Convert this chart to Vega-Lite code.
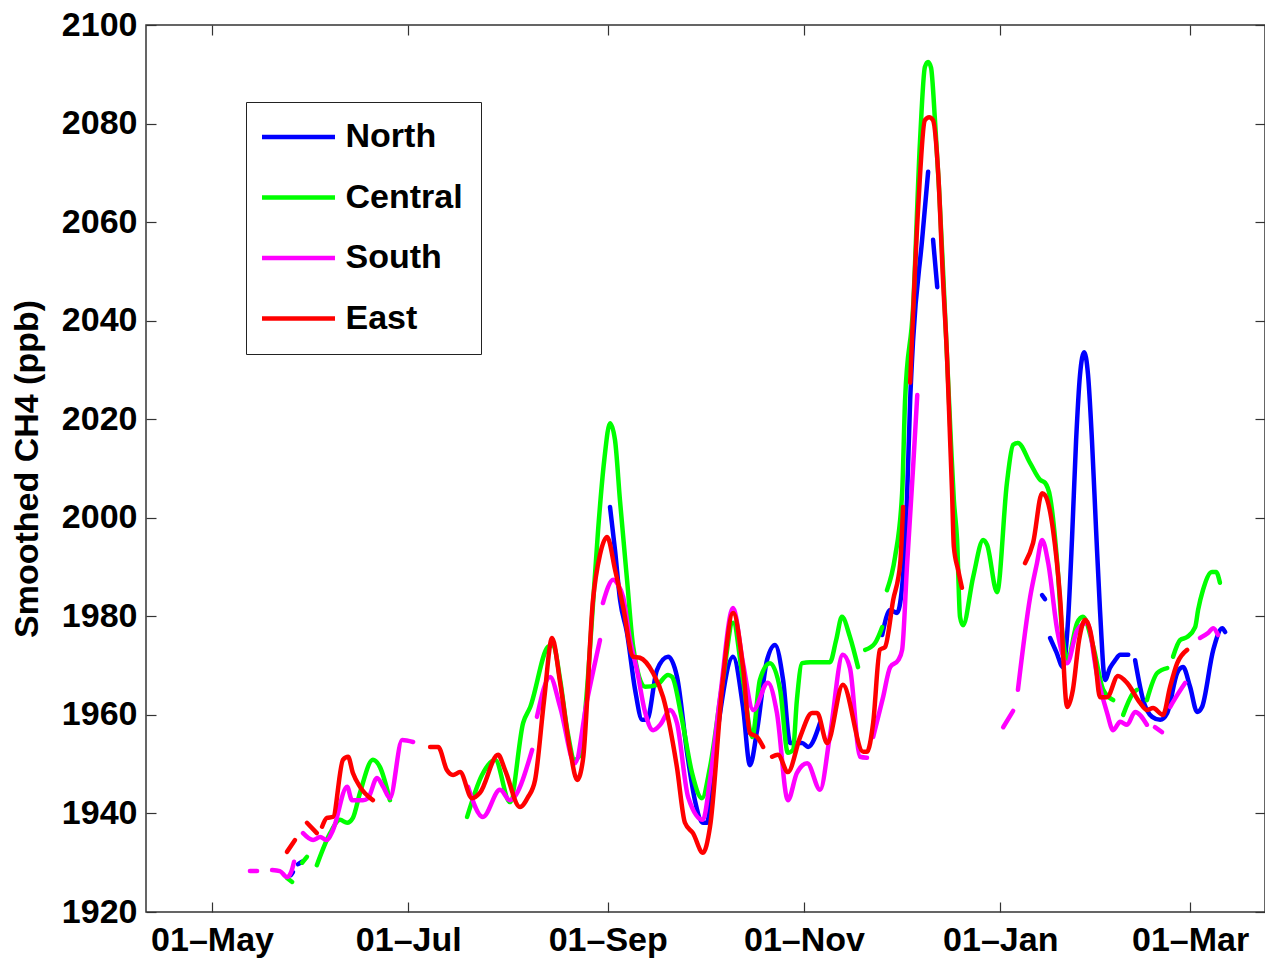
{
  "$schema": "https://vega.github.io/schema/vega-lite/v6.json",
  "width": 1119,
  "height": 887,
  "autosize": {"type": "none"},
  "padding": {"left": 146, "top": 25, "right": 0, "bottom": 46},
  "background": "white",
  "data": {"values": [
    {"s":"North","g":"N1","d":"2010-05-25T13:00","v":1927.5},
    {"s":"North","g":"N1","d":"2010-05-26T04:00","v":1928.1},
    {"s":"North","g":"N2","d":"2010-05-27T18:00","v":1929.7},
    {"s":"North","g":"N2","d":"2010-05-29T00:00","v":1930.2},
    {"s":"North","g":"N3","d":"2010-09-01T17:00","v":2002.2},
    {"s":"North","g":"N3","d":"2010-09-03T06:00","v":1993.5},
    {"s":"North","g":"N3","d":"2010-09-04T20:00","v":1983.3},
    {"s":"North","g":"N3","d":"2010-09-07T00:00","v":1976.6},
    {"s":"North","g":"N3","d":"2010-09-09T12:00","v":1965.1},
    {"s":"North","g":"N3","d":"2010-09-11T17:00","v":1959.0},
    {"s":"North","g":"N3","d":"2010-09-13T05:00","v":1959.0},
    {"s":"North","g":"N3","d":"2010-09-16T07:00","v":1969.1},
    {"s":"North","g":"N3","d":"2010-09-19T18:00","v":1971.8},
    {"s":"North","g":"N3","d":"2010-09-22T13:00","v":1967.7},
    {"s":"North","g":"N3","d":"2010-09-25T16:00","v":1952.3},
    {"s":"North","g":"N3","d":"2010-09-28T02:00","v":1942.7},
    {"s":"North","g":"N3","d":"2010-09-30T14:00","v":1938.1},
    {"s":"North","g":"N3","d":"2010-10-01T21:00","v":1938.1},
    {"s":"North","g":"N3","d":"2010-10-03T17:00","v":1948.8},
    {"s":"North","g":"N3","d":"2010-10-05T22:00","v":1960.4},
    {"s":"North","g":"N3","d":"2010-10-09T23:00","v":1971.8},
    {"s":"North","g":"N3","d":"2010-10-13T01:00","v":1961.6},
    {"s":"North","g":"N3","d":"2010-10-15T05:00","v":1949.8},
    {"s":"North","g":"N3","d":"2010-10-17T10:00","v":1956.9},
    {"s":"North","g":"N3","d":"2010-10-20T12:00","v":1971.1},
    {"s":"North","g":"N3","d":"2010-10-23T00:00","v":1974.2},
    {"s":"North","g":"N3","d":"2010-10-25T12:00","v":1967.1},
    {"s":"North","g":"N3","d":"2010-10-27T17:00","v":1954.3},
    {"s":"North","g":"N3","d":"2010-10-31T10:00","v":1954.3},
    {"s":"North","g":"N3","d":"2010-11-02T07:00","v":1953.5},
    {"s":"North","g":"N3","d":"2010-11-06T00:00","v":1958.4},
    {"s":"North","g":"N4","d":"2010-11-25T07:00","v":1976.2},
    {"s":"North","g":"N4","d":"2010-11-27T19:00","v":1981.3},
    {"s":"North","g":"N4","d":"2010-11-29T22:00","v":1980.7},
    {"s":"North","g":"N4","d":"2010-12-01T12:00","v":1986.0},
    {"s":"North","g":"N4","d":"2010-12-03T00:00","v":2003.6},
    {"s":"North","g":"N4","d":"2010-12-04T00:00","v":2023.9},
    {"s":"North","g":"N4","d":"2010-12-04T22:00","v":2036.1},
    {"s":"North","g":"N4","d":"2010-12-07T17:00","v":2056.4},
    {"s":"North","g":"N4","d":"2010-12-09T14:00","v":2070.2},
    {"s":"North","g":"N5","d":"2010-12-11T03:00","v":2056.4},
    {"s":"North","g":"N5","d":"2010-12-12T10:00","v":2046.8},
    {"s":"North","g":"N6","d":"2011-01-14T00:00","v":1984.3},
    {"s":"North","g":"N6","d":"2011-01-14T22:00","v":1983.5},
    {"s":"North","g":"N7","d":"2011-01-16T12:00","v":1975.6},
    {"s":"North","g":"N7","d":"2011-01-18T10:00","v":1972.8},
    {"s":"North","g":"N7","d":"2011-01-20T12:00","v":1969.7},
    {"s":"North","g":"N7","d":"2011-01-22T02:00","v":1979.3},
    {"s":"North","g":"N7","d":"2011-01-23T07:00","v":1995.5},
    {"s":"North","g":"N7","d":"2011-01-24T14:00","v":2015.8},
    {"s":"North","g":"N7","d":"2011-01-25T19:00","v":2029.0},
    {"s":"North","g":"N7","d":"2011-01-27T02:00","v":2033.6},
    {"s":"North","g":"N7","d":"2011-01-28T07:00","v":2029.0},
    {"s":"North","g":"N7","d":"2011-01-29T12:00","v":2015.8},
    {"s":"North","g":"N7","d":"2011-01-30T19:00","v":1997.5},
    {"s":"North","g":"N7","d":"2011-02-01T00:00","v":1981.3},
    {"s":"North","g":"N7","d":"2011-02-02T14:00","v":1967.1},
    {"s":"North","g":"N7","d":"2011-02-04T02:00","v":1969.5},
    {"s":"North","g":"N7","d":"2011-02-05T17:00","v":1971.1},
    {"s":"North","g":"N7","d":"2011-02-07T07:00","v":1972.2},
    {"s":"North","g":"N7","d":"2011-02-09T19:00","v":1972.2},
    {"s":"North","g":"N8","d":"2011-02-11T22:00","v":1971.1},
    {"s":"North","g":"N8","d":"2011-02-14T10:00","v":1963.0},
    {"s":"North","g":"N8","d":"2011-02-17T05:00","v":1959.6},
    {"s":"North","g":"N8","d":"2011-02-19T17:00","v":1959.0},
    {"s":"North","g":"N8","d":"2011-02-21T22:00","v":1960.4},
    {"s":"North","g":"N8","d":"2011-02-25T00:00","v":1968.5},
    {"s":"North","g":"N8","d":"2011-02-26T19:00","v":1969.7},
    {"s":"North","g":"N8","d":"2011-03-01T00:00","v":1965.7},
    {"s":"North","g":"N8","d":"2011-03-03T05:00","v":1960.6},
    {"s":"North","g":"N8","d":"2011-03-04T17:00","v":1961.6},
    {"s":"North","g":"N8","d":"2011-03-08T05:00","v":1973.2},
    {"s":"North","g":"N8","d":"2011-03-11T00:00","v":1977.6},
    {"s":"North","g":"N8","d":"2011-03-11T22:00","v":1976.8},

    {"s":"Central","g":"C1","d":"2010-05-24T07:00","v":1926.9},
    {"s":"Central","g":"C1","d":"2010-05-25T22:00","v":1926.1},
    {"s":"Central","g":"C2","d":"2010-05-29T00:00","v":1930.0},
    {"s":"Central","g":"C2","d":"2010-05-30T12:00","v":1931.2},
    {"s":"Central","g":"C3","d":"2010-06-02T14:00","v":1929.5},
    {"s":"Central","g":"C3","d":"2010-06-06T17:00","v":1936.0},
    {"s":"Central","g":"C3","d":"2010-06-09T19:00","v":1938.7},
    {"s":"Central","g":"C3","d":"2010-06-12T00:00","v":1938.1},
    {"s":"Central","g":"C3","d":"2010-06-13T19:00","v":1939.1},
    {"s":"Central","g":"C3","d":"2010-06-16T00:00","v":1944.2},
    {"s":"Central","g":"C3","d":"2010-06-20T00:00","v":1950.9},
    {"s":"Central","g":"C3","d":"2010-06-22T05:00","v":1949.4},
    {"s":"Central","g":"C3","d":"2010-06-25T07:00","v":1942.7},
    {"s":"Central","g":"C4","d":"2010-07-19T07:00","v":1939.3},
    {"s":"Central","g":"C4","d":"2010-07-23T22:00","v":1947.8},
    {"s":"Central","g":"C4","d":"2010-07-28T00:00","v":1950.9},
    {"s":"Central","g":"C4","d":"2010-08-01T14:00","v":1942.3},
    {"s":"Central","g":"C4","d":"2010-08-05T17:00","v":1958.4},
    {"s":"Central","g":"C4","d":"2010-08-07T22:00","v":1961.6},
    {"s":"Central","g":"C4","d":"2010-08-13T10:00","v":1973.8},
    {"s":"Central","g":"C4","d":"2010-08-15T00:00","v":1974.2},
    {"s":"Central","g":"C4","d":"2010-08-17T05:00","v":1967.1},
    {"s":"Central","g":"C4","d":"2010-08-19T10:00","v":1956.9},
    {"s":"Central","g":"C4","d":"2010-08-21T19:00","v":1950.9},
    {"s":"Central","g":"C4","d":"2010-08-23T10:00","v":1951.9},
    {"s":"Central","g":"C4","d":"2010-08-25T07:00","v":1963.0},
    {"s":"Central","g":"C4","d":"2010-08-27T02:00","v":1979.3},
    {"s":"Central","g":"C4","d":"2010-08-29T00:00","v":1997.5},
    {"s":"Central","g":"C4","d":"2010-08-30T22:00","v":2011.7},
    {"s":"Central","g":"C4","d":"2010-09-01T17:00","v":2019.2},
    {"s":"Central","g":"C4","d":"2010-09-03T06:00","v":2015.8},
    {"s":"Central","g":"C4","d":"2010-09-04T19:00","v":2003.6},
    {"s":"Central","g":"C4","d":"2010-09-07T00:00","v":1987.4},
    {"s":"Central","g":"C4","d":"2010-09-08T22:00","v":1973.8},
    {"s":"Central","g":"C4","d":"2010-09-12T14:00","v":1965.7},
    {"s":"Central","g":"C4","d":"2010-09-16T07:00","v":1966.1},
    {"s":"Central","g":"C4","d":"2010-09-19T18:00","v":1968.1},
    {"s":"Central","g":"C4","d":"2010-09-21T00:00","v":1967.7},
    {"s":"Central","g":"C4","d":"2010-09-24T02:00","v":1959.0},
    {"s":"Central","g":"C4","d":"2010-09-27T05:00","v":1948.2},
    {"s":"Central","g":"C4","d":"2010-09-30T07:00","v":1943.1},
    {"s":"Central","g":"C4","d":"2010-10-02T19:00","v":1949.4},
    {"s":"Central","g":"C4","d":"2010-10-06T19:00","v":1967.1},
    {"s":"Central","g":"C4","d":"2010-10-09T23:00","v":1978.7},
    {"s":"Central","g":"C4","d":"2010-10-13T01:00","v":1967.1},
    {"s":"Central","g":"C4","d":"2010-10-15T22:00","v":1955.5},
    {"s":"Central","g":"C4","d":"2010-10-18T07:00","v":1967.1},
    {"s":"Central","g":"C4","d":"2010-10-21T10:00","v":1970.5},
    {"s":"Central","g":"C4","d":"2010-10-24T14:00","v":1965.1},
    {"s":"Central","g":"C4","d":"2010-10-27T00:00","v":1952.3},
    {"s":"Central","g":"C4","d":"2010-10-28T14:00","v":1952.9},
    {"s":"Central","g":"C4","d":"2010-10-29T19:00","v":1963.0},
    {"s":"Central","g":"C4","d":"2010-10-31T10:00","v":1970.5},
    {"s":"Central","g":"C4","d":"2010-11-02T22:00","v":1970.7},
    {"s":"Central","g":"C4","d":"2010-11-06T00:00","v":1970.7},
    {"s":"Central","g":"C4","d":"2010-11-09T02:00","v":1970.7},
    {"s":"Central","g":"C4","d":"2010-11-11T00:00","v":1975.2},
    {"s":"Central","g":"C4","d":"2010-11-12T19:00","v":1979.9},
    {"s":"Central","g":"C4","d":"2010-11-15T07:00","v":1975.8},
    {"s":"Central","g":"C4","d":"2010-11-17T19:00","v":1969.7},
    {"s":"Central","g":"C5","d":"2010-11-20T00:00","v":1973.2},
    {"s":"Central","g":"C5","d":"2010-11-23T02:00","v":1974.6},
    {"s":"Central","g":"C5","d":"2010-11-25T07:00","v":1977.8},
    {"s":"Central","g":"C6","d":"2010-11-26T19:00","v":1985.3},
    {"s":"Central","g":"C6","d":"2010-11-29T07:00","v":1992.0},
    {"s":"Central","g":"C6","d":"2010-12-01T12:00","v":2005.0},
    {"s":"Central","g":"C6","d":"2010-12-02T10:00","v":2023.9},
    {"s":"Central","g":"C6","d":"2010-12-04T22:00","v":2042.8},
    {"s":"Central","g":"C6","d":"2010-12-07T02:00","v":2076.7},
    {"s":"Central","g":"C6","d":"2010-12-08T14:00","v":2091.5},
    {"s":"Central","g":"C6","d":"2010-12-09T14:00","v":2092.5},
    {"s":"Central","g":"C6","d":"2010-12-10T12:00","v":2091.3},
    {"s":"Central","g":"C6","d":"2010-12-11T17:00","v":2080.7},
    {"s":"Central","g":"C6","d":"2010-12-13T00:00","v":2066.5},
    {"s":"Central","g":"C6","d":"2010-12-14T05:00","v":2050.3},
    {"s":"Central","g":"C6","d":"2010-12-15T12:00","v":2032.0},
    {"s":"Central","g":"C6","d":"2010-12-16T17:00","v":2014.8},
    {"s":"Central","g":"C6","d":"2010-12-17T14:00","v":2003.6},
    {"s":"Central","g":"C6","d":"2010-12-18T14:00","v":1995.5},
    {"s":"Central","g":"C6","d":"2010-12-19T12:00","v":1979.9},
    {"s":"Central","g":"C6","d":"2010-12-20T10:00","v":1978.2},
    {"s":"Central","g":"C6","d":"2010-12-23T14:00","v":1988.0},
    {"s":"Central","g":"C6","d":"2010-12-26T17:00","v":1995.5},
    {"s":"Central","g":"C6","d":"2010-12-27T22:00","v":1994.5},
    {"s":"Central","g":"C6","d":"2010-12-31T00:00","v":1984.9},
    {"s":"Central","g":"C6","d":"2011-01-03T02:00","v":2007.1},
    {"s":"Central","g":"C6","d":"2011-01-05T00:00","v":2014.8},
    {"s":"Central","g":"C6","d":"2011-01-06T12:00","v":2015.2},
    {"s":"Central","g":"C6","d":"2011-01-10T07:00","v":2011.1},
    {"s":"Central","g":"C6","d":"2011-01-13T10:00","v":2007.7},
    {"s":"Central","g":"C6","d":"2011-01-14T22:00","v":2007.1},
    {"s":"Central","g":"C6","d":"2011-01-16T12:00","v":2004.2},
    {"s":"Central","g":"C6","d":"2011-01-18T17:00","v":1990.8},
    {"s":"Central","g":"C6","d":"2011-01-20T05:00","v":1977.2},
    {"s":"Central","g":"C6","d":"2011-01-21T19:00","v":1971.1},
    {"s":"Central","g":"C6","d":"2011-01-24T22:00","v":1978.7},
    {"s":"Central","g":"C6","d":"2011-01-26T17:00","v":1979.9},
    {"s":"Central","g":"C6","d":"2011-01-29T22:00","v":1973.8},
    {"s":"Central","g":"C6","d":"2011-02-02T00:00","v":1965.1},
    {"s":"Central","g":"C6","d":"2011-02-05T02:00","v":1963.0},
    {"s":"Central","g":"C7","d":"2011-02-08T05:00","v":1960.0},
    {"s":"Central","g":"C7","d":"2011-02-11T07:00","v":1964.4},
    {"s":"Central","g":"C7","d":"2011-02-12T12:00","v":1965.1},
    {"s":"Central","g":"C8","d":"2011-02-15T14:00","v":1963.0},
    {"s":"Central","g":"C8","d":"2011-02-18T19:00","v":1968.5},
    {"s":"Central","g":"C8","d":"2011-02-21T22:00","v":1969.5},
    {"s":"Central","g":"C9","d":"2011-02-23T17:00","v":1971.8},
    {"s":"Central","g":"C9","d":"2011-02-25T22:00","v":1975.2},
    {"s":"Central","g":"C9","d":"2011-02-28T02:00","v":1975.8},
    {"s":"Central","g":"C9","d":"2011-03-02T14:00","v":1977.8},
    {"s":"Central","g":"C9","d":"2011-03-03T12:00","v":1981.3},
    {"s":"Central","g":"C9","d":"2011-03-05T00:00","v":1985.3},
    {"s":"Central","g":"C9","d":"2011-03-07T19:00","v":1989.0},
    {"s":"Central","g":"C9","d":"2011-03-09T02:00","v":1989.0},
    {"s":"Central","g":"C9","d":"2011-03-10T07:00","v":1986.8},

    {"s":"South","g":"S1","d":"2010-05-12T19:00","v":1928.3},
    {"s":"South","g":"S1","d":"2010-05-15T00:00","v":1928.3},
    {"s":"South","g":"S2","d":"2010-05-19T16:00","v":1928.5},
    {"s":"South","g":"S2","d":"2010-05-22T02:00","v":1928.3},
    {"s":"South","g":"S2","d":"2010-05-24T07:00","v":1927.1},
    {"s":"South","g":"S2","d":"2010-05-25T14:00","v":1928.1},
    {"s":"South","g":"S2","d":"2010-05-26T12:00","v":1930.2},
    {"s":"South","g":"S3","d":"2010-05-29T07:00","v":1936.0},
    {"s":"South","g":"S3","d":"2010-06-01T10:00","v":1934.6},
    {"s":"South","g":"S3","d":"2010-06-03T14:00","v":1935.2},
    {"s":"South","g":"S3","d":"2010-06-05T17:00","v":1934.6},
    {"s":"South","g":"S3","d":"2010-06-07T14:00","v":1936.6},
    {"s":"South","g":"S3","d":"2010-06-12T00:00","v":1945.4},
    {"s":"South","g":"S3","d":"2010-06-13T12:00","v":1942.7},
    {"s":"South","g":"S3","d":"2010-06-16T22:00","v":1942.7},
    {"s":"South","g":"S3","d":"2010-06-18T12:00","v":1943.1},
    {"s":"South","g":"S3","d":"2010-06-21T07:00","v":1947.2},
    {"s":"South","g":"S3","d":"2010-06-23T05:00","v":1945.4},
    {"s":"South","g":"S3","d":"2010-06-25T07:00","v":1943.1},
    {"s":"South","g":"S3","d":"2010-06-29T02:00","v":1954.9},
    {"s":"South","g":"S3","d":"2010-07-02T12:00","v":1954.5},
    {"s":"South","g":"S4","d":"2010-07-19T14:00","v":1945.4},
    {"s":"South","g":"S4","d":"2010-07-24T05:00","v":1939.3},
    {"s":"South","g":"S4","d":"2010-07-29T12:00","v":1944.8},
    {"s":"South","g":"S4","d":"2010-08-01T14:00","v":1942.7},
    {"s":"South","g":"S4","d":"2010-08-08T12:00","v":1952.9},
    {"s":"South","g":"S5","d":"2010-08-10T00:00","v":1959.6},
    {"s":"South","g":"S5","d":"2010-08-14T02:00","v":1967.7},
    {"s":"South","g":"S5","d":"2010-08-17T05:00","v":1961.6},
    {"s":"South","g":"S5","d":"2010-08-21T19:00","v":1950.2},
    {"s":"South","g":"S5","d":"2010-08-25T14:00","v":1963.0},
    {"s":"South","g":"S5","d":"2010-08-29T14:00","v":1975.2},
    {"s":"South","g":"S6","d":"2010-08-30T12:00","v":1982.7},
    {"s":"South","g":"S6","d":"2010-09-02T17:00","v":1987.4},
    {"s":"South","g":"S6","d":"2010-09-04T05:00","v":1986.4},
    {"s":"South","g":"S6","d":"2010-09-05T19:00","v":1983.9},
    {"s":"South","g":"S6","d":"2010-09-07T22:00","v":1975.2},
    {"s":"South","g":"S6","d":"2010-09-10T02:00","v":1969.1},
    {"s":"South","g":"S6","d":"2010-09-12T14:00","v":1960.6},
    {"s":"South","g":"S6","d":"2010-09-15T02:00","v":1956.9},
    {"s":"South","g":"S6","d":"2010-09-17T07:00","v":1958.0},
    {"s":"South","g":"S6","d":"2010-09-20T10:00","v":1961.0},
    {"s":"South","g":"S6","d":"2010-09-22T12:00","v":1958.4},
    {"s":"South","g":"S6","d":"2010-09-26T00:00","v":1943.3},
    {"s":"South","g":"S6","d":"2010-09-30T14:00","v":1938.7},
    {"s":"South","g":"S6","d":"2010-10-02T19:00","v":1946.8},
    {"s":"South","g":"S6","d":"2010-10-05T22:00","v":1963.6},
    {"s":"South","g":"S6","d":"2010-10-09T23:00","v":1981.7},
    {"s":"South","g":"S6","d":"2010-10-13T01:00","v":1970.5},
    {"s":"South","g":"S6","d":"2010-10-16T05:00","v":1961.0},
    {"s":"South","g":"S6","d":"2010-10-20T19:00","v":1966.5},
    {"s":"South","g":"S6","d":"2010-10-23T14:00","v":1960.4},
    {"s":"South","g":"S6","d":"2010-10-27T00:00","v":1942.7},
    {"s":"South","g":"S6","d":"2010-10-29T19:00","v":1948.2},
    {"s":"South","g":"S6","d":"2010-11-02T00:00","v":1950.2},
    {"s":"South","g":"S6","d":"2010-11-06T00:00","v":1944.8},
    {"s":"South","g":"S6","d":"2010-11-09T02:00","v":1955.9},
    {"s":"South","g":"S6","d":"2010-11-13T02:00","v":1972.2},
    {"s":"South","g":"S6","d":"2010-11-15T07:00","v":1969.5},
    {"s":"South","g":"S6","d":"2010-11-18T10:00","v":1951.5},
    {"s":"South","g":"S6","d":"2010-11-20T14:00","v":1951.3},
    {"s":"South","g":"S7","d":"2010-11-22T12:00","v":1955.5},
    {"s":"South","g":"S7","d":"2010-11-25T14:00","v":1963.6},
    {"s":"South","g":"S7","d":"2010-11-27T19:00","v":1969.7},
    {"s":"South","g":"S7","d":"2010-11-30T07:00","v":1971.1},
    {"s":"South","g":"S7","d":"2010-12-01T12:00","v":1973.2},
    {"s":"South","g":"S7","d":"2010-12-03T00:00","v":1990.0},
    {"s":"South","g":"S7","d":"2010-12-04T22:00","v":2010.3},
    {"s":"South","g":"S7","d":"2010-12-06T05:00","v":2024.9},
    {"s":"South","g":"S8","d":"2011-01-01T22:00","v":1957.5},
    {"s":"South","g":"S8","d":"2011-01-05T00:00","v":1960.8},
    {"s":"South","g":"S9","d":"2011-01-06T12:00","v":1965.1},
    {"s":"South","g":"S9","d":"2011-01-10T07:00","v":1983.9},
    {"s":"South","g":"S9","d":"2011-01-12T10:00","v":1990.8},
    {"s":"South","g":"S9","d":"2011-01-14T00:00","v":1995.5},
    {"s":"South","g":"S9","d":"2011-01-15T22:00","v":1990.8},
    {"s":"South","g":"S9","d":"2011-01-18T17:00","v":1977.2},
    {"s":"South","g":"S9","d":"2011-01-21T19:00","v":1970.5},
    {"s":"South","g":"S9","d":"2011-01-24T22:00","v":1977.2},
    {"s":"South","g":"S9","d":"2011-01-28T00:00","v":1978.7},
    {"s":"South","g":"S9","d":"2011-01-31T02:00","v":1968.1},
    {"s":"South","g":"S9","d":"2011-02-03T05:00","v":1960.4},
    {"s":"South","g":"S9","d":"2011-02-05T02:00","v":1956.9},
    {"s":"South","g":"S9","d":"2011-02-07T07:00","v":1958.6},
    {"s":"South","g":"S9","d":"2011-02-09T10:00","v":1958.0},
    {"s":"South","g":"S9","d":"2011-02-11T22:00","v":1960.6},
    {"s":"South","g":"S9","d":"2011-02-15T14:00","v":1958.0},
    {"s":"South","g":"S10","d":"2011-02-18T02:00","v":1957.5},
    {"s":"South","g":"S10","d":"2011-02-20T07:00","v":1956.5},
    {"s":"South","g":"S11","d":"2011-02-22T19:00","v":1961.6},
    {"s":"South","g":"S11","d":"2011-02-25T00:00","v":1964.0},
    {"s":"South","g":"S11","d":"2011-02-27T12:00","v":1966.5},
    {"s":"South","g":"S12","d":"2011-03-04T02:00","v":1975.6},
    {"s":"South","g":"S12","d":"2011-03-06T14:00","v":1976.6},
    {"s":"South","g":"S12","d":"2011-03-08T05:00","v":1977.6},
    {"s":"South","g":"S12","d":"2011-03-09T17:00","v":1976.2},

    {"s":"East","g":"E1","d":"2010-05-24T07:00","v":1932.2},
    {"s":"East","g":"E1","d":"2010-05-26T19:00","v":1934.6},
    {"s":"East","g":"E2","d":"2010-05-30T12:00","v":1938.1},
    {"s":"East","g":"E2","d":"2010-06-02T14:00","v":1936.0},
    {"s":"East","g":"E3","d":"2010-06-04T05:00","v":1937.3},
    {"s":"East","g":"E3","d":"2010-06-05T17:00","v":1939.1},
    {"s":"East","g":"E3","d":"2010-06-07T14:00","v":1939.3},
    {"s":"East","g":"E3","d":"2010-06-10T17:00","v":1950.9},
    {"s":"East","g":"E3","d":"2010-06-12T07:00","v":1951.5},
    {"s":"East","g":"E3","d":"2010-06-13T19:00","v":1948.2},
    {"s":"East","g":"E3","d":"2010-06-16T00:00","v":1945.4},
    {"s":"East","g":"E3","d":"2010-06-20T00:00","v":1942.7},
    {"s":"East","g":"E4","d":"2010-07-07T19:00","v":1953.5},
    {"s":"East","g":"E4","d":"2010-07-10T07:00","v":1953.5},
    {"s":"East","g":"E4","d":"2010-07-13T00:00","v":1948.8},
    {"s":"East","g":"E4","d":"2010-07-14T22:00","v":1947.8},
    {"s":"East","g":"E4","d":"2010-07-17T02:00","v":1948.4},
    {"s":"East","g":"E4","d":"2010-07-20T19:00","v":1943.1},
    {"s":"East","g":"E4","d":"2010-07-23T07:00","v":1944.2},
    {"s":"East","g":"E4","d":"2010-07-28T22:00","v":1951.9},
    {"s":"East","g":"E4","d":"2010-07-31T02:00","v":1948.8},
    {"s":"East","g":"E4","d":"2010-08-04T17:00","v":1941.3},
    {"s":"East","g":"E4","d":"2010-08-07T05:00","v":1943.3},
    {"s":"East","g":"E4","d":"2010-08-09T10:00","v":1946.8},
    {"s":"East","g":"E4","d":"2010-08-12T05:00","v":1963.0},
    {"s":"East","g":"E4","d":"2010-08-14T17:00","v":1975.6},
    {"s":"East","g":"E4","d":"2010-08-17T05:00","v":1966.5},
    {"s":"East","g":"E4","d":"2010-08-20T07:00","v":1952.9},
    {"s":"East","g":"E4","d":"2010-08-22T12:00","v":1946.8},
    {"s":"East","g":"E4","d":"2010-08-24T07:00","v":1950.9},
    {"s":"East","g":"E4","d":"2010-08-27T10:00","v":1983.3},
    {"s":"East","g":"E4","d":"2010-08-29T14:00","v":1992.5},
    {"s":"East","g":"E4","d":"2010-08-31T19:00","v":1996.1},
    {"s":"East","g":"E4","d":"2010-09-03T07:00","v":1989.4},
    {"s":"East","g":"E4","d":"2010-09-05T19:00","v":1981.9},
    {"s":"East","g":"E4","d":"2010-09-08T22:00","v":1971.8},
    {"s":"East","g":"E4","d":"2010-09-11T00:00","v":1971.6},
    {"s":"East","g":"E4","d":"2010-09-15T02:00","v":1968.5},
    {"s":"East","g":"E4","d":"2010-09-18T05:00","v":1963.6},
    {"s":"East","g":"E4","d":"2010-09-22T12:00","v":1949.4},
    {"s":"East","g":"E4","d":"2010-09-25T00:00","v":1938.1},
    {"s":"East","g":"E4","d":"2010-09-27T12:00","v":1936.0},
    {"s":"East","g":"E4","d":"2010-09-30T14:00","v":1932.0},
    {"s":"East","g":"E4","d":"2010-10-02T19:00","v":1937.3},
    {"s":"East","g":"E4","d":"2010-10-06T19:00","v":1967.1},
    {"s":"East","g":"E4","d":"2010-10-09T23:00","v":1980.7},
    {"s":"East","g":"E4","d":"2010-10-13T01:00","v":1969.7},
    {"s":"East","g":"E4","d":"2010-10-15T05:00","v":1956.3},
    {"s":"East","g":"E4","d":"2010-10-17T10:00","v":1955.5},
    {"s":"East","g":"E4","d":"2010-10-19T07:00","v":1953.5},
    {"s":"East","g":"E5","d":"2010-10-22T02:00","v":1951.5},
    {"s":"East","g":"E5","d":"2010-10-23T22:00","v":1951.9},
    {"s":"East","g":"E5","d":"2010-10-27T00:00","v":1948.4},
    {"s":"East","g":"E5","d":"2010-10-30T19:00","v":1955.5},
    {"s":"East","g":"E5","d":"2010-11-03T12:00","v":1960.4},
    {"s":"East","g":"E5","d":"2010-11-05T02:00","v":1960.4},
    {"s":"East","g":"E5","d":"2010-11-08T05:00","v":1954.3},
    {"s":"East","g":"E5","d":"2010-11-13T02:00","v":1966.1},
    {"s":"East","g":"E5","d":"2010-11-19T10:00","v":1952.5},
    {"s":"East","g":"E5","d":"2010-11-20T14:00","v":1952.5},
    {"s":"East","g":"E5","d":"2010-11-22T12:00","v":1958.4},
    {"s":"East","g":"E5","d":"2010-11-24T14:00","v":1973.2},
    {"s":"East","g":"E5","d":"2010-11-26T05:00","v":1973.8},
    {"s":"East","g":"E5","d":"2010-11-28T17:00","v":1983.3},
    {"s":"East","g":"E5","d":"2010-11-30T22:00","v":1990.8},
    {"s":"East","g":"E5","d":"2010-12-01T19:00","v":2002.2},
    {"s":"East","g":"E6","d":"2010-12-04T00:00","v":2027.4},
    {"s":"East","g":"E6","d":"2010-12-06T12:00","v":2063.1},
    {"s":"East","g":"E6","d":"2010-12-08T14:00","v":2080.7},
    {"s":"East","g":"E6","d":"2010-12-09T22:00","v":2081.3},
    {"s":"East","g":"E6","d":"2010-12-11T02:00","v":2080.7},
    {"s":"East","g":"E6","d":"2010-12-12T17:00","v":2070.0},
    {"s":"East","g":"E6","d":"2010-12-14T05:00","v":2048.3},
    {"s":"East","g":"E6","d":"2010-12-15T12:00","v":2032.0},
    {"s":"East","g":"E6","d":"2010-12-16T10:00","v":2015.8},
    {"s":"East","g":"E6","d":"2010-12-17T00:00","v":2005.6},
    {"s":"East","g":"E6","d":"2010-12-17T14:00","v":1994.1},
    {"s":"East","g":"E6","d":"2010-12-18T22:00","v":1989.4},
    {"s":"East","g":"E6","d":"2010-12-20T02:00","v":1985.8},
    {"s":"East","g":"E7","d":"2011-01-08T17:00","v":1990.8},
    {"s":"East","g":"E7","d":"2011-01-11T05:00","v":1994.9},
    {"s":"East","g":"E7","d":"2011-01-14T00:00","v":2005.0},
    {"s":"East","g":"E7","d":"2011-01-14T22:00","v":2004.6},
    {"s":"East","g":"E7","d":"2011-01-17T10:00","v":1997.5},
    {"s":"East","g":"E7","d":"2011-01-19T14:00","v":1983.9},
    {"s":"East","g":"E7","d":"2011-01-21T19:00","v":1961.6},
    {"s":"East","g":"E7","d":"2011-01-23T14:00","v":1965.1},
    {"s":"East","g":"E7","d":"2011-01-25T12:00","v":1975.2},
    {"s":"East","g":"E7","d":"2011-01-27T10:00","v":1979.3},
    {"s":"East","g":"E7","d":"2011-01-28T22:00","v":1977.2},
    {"s":"East","g":"E7","d":"2011-01-30T12:00","v":1971.1},
    {"s":"East","g":"E7","d":"2011-02-01T00:00","v":1963.6},
    {"s":"East","g":"E7","d":"2011-02-03T05:00","v":1963.6},
    {"s":"East","g":"E7","d":"2011-02-06T14:00","v":1967.9},
    {"s":"East","g":"E7","d":"2011-02-09T10:00","v":1966.5},
    {"s":"East","g":"E7","d":"2011-02-13T12:00","v":1962.4},
    {"s":"East","g":"E7","d":"2011-02-15T14:00","v":1961.0},
    {"s":"East","g":"E7","d":"2011-02-17T12:00","v":1961.4},
    {"s":"East","g":"E7","d":"2011-02-20T14:00","v":1960.0},
    {"s":"East","g":"E7","d":"2011-02-22T19:00","v":1965.7},
    {"s":"East","g":"E7","d":"2011-02-25T00:00","v":1970.5},
    {"s":"East","g":"E7","d":"2011-02-28T02:00","v":1973.2}
  ]},
  "layer": [
    {
      "mark": {"type": "line", "strokeWidth": 4.5, "interpolate": "monotone", "strokeCap": "round", "strokeJoin": "round"},
      "encoding": {
        "x": {
          "field": "d", "type": "temporal",
          "scale": {"domain": [{"year": 2010, "month": 4, "date": 10, "hours": 11, "minutes": 30}, {"year": 2011, "month": 3, "date": 24, "hours": 7}]},
          "axis": {
            "orient": "bottom", "title": null, "format": "%d–%b",
            "values": [{"year": 2010, "month": 5, "date": 1}, {"year": 2010, "month": 7, "date": 1}, {"year": 2010, "month": 9, "date": 1}, {"year": 2010, "month": 11, "date": 1}, {"year": 2011, "month": 1, "date": 1}, {"year": 2011, "month": 3, "date": 1}],
            "labelPadding": 21, "labelOverlap": false, "labelFlush": false
          }
        },
        "y": {
          "field": "v", "type": "quantitative",
          "scale": {"domain": [1920, 2100], "nice": false, "zero": false},
          "axis": {
            "orient": "left", "title": "Smoothed CH4 (ppb)", "format": "d",
            "values": [1920, 1940, 1960, 1980, 2000, 2020, 2040, 2060, 2080, 2100],
            "labelPadding": 19, "labelOverlap": false,
            "titleX": -119, "titleY": 443.5, "titleBaseline": "middle", "titleAngle": -90
          }
        },
        "color": {
          "field": "s", "type": "nominal",
          "scale": {"domain": ["North", "Central", "South", "East"], "range": ["#0000ff", "#00ff00", "#ff00ff", "#ff0000"]},
          "legend": {
            "title": null, "orient": "none", "legendX": 100, "legendY": 77,
            "symbolType": "M-3,0H3", "symbolSize": 592, "symbolStrokeWidth": 4.5,
            "labelFont": "Liberation Sans", "labelFontSize": 34, "labelFontWeight": "bold", "labelColor": "#000",
            "padding": 18, "rowPadding": 26.5, "symbolOffset": 17.5, "labelOffset": 30,
            "strokeColor": "#222", "fillColor": "#ffffff", "labelBaseline": "middle"
          }
        },
        "detail": {"field": "g", "type": "nominal"}
      }
    },
    {
      "mark": {"type": "line", "strokeOpacity": 0},
      "encoding": {
        "x": {
          "field": "d", "type": "temporal",
          "scale": {"domain": [{"year": 2010, "month": 4, "date": 10, "hours": 11, "minutes": 30}, {"year": 2011, "month": 3, "date": 24, "hours": 7}]},
          "axis": {
            "orient": "top", "title": null, "labels": false,
            "values": [{"year": 2010, "month": 5, "date": 1}, {"year": 2010, "month": 7, "date": 1}, {"year": 2010, "month": 9, "date": 1}, {"year": 2010, "month": 11, "date": 1}, {"year": 2011, "month": 1, "date": 1}, {"year": 2011, "month": 3, "date": 1}]
          }
        },
        "y": {
          "field": "v", "type": "quantitative",
          "scale": {"domain": [1920, 2100], "nice": false, "zero": false},
          "axis": {
            "orient": "right", "title": null, "labels": false,
            "values": [1920, 1940, 1960, 1980, 2000, 2020, 2040, 2060, 2080, 2100]
          }
        },
        "detail": {"field": "g", "type": "nominal"}
      }
    }
  ],
  "resolve": {"axis": {"x": "independent", "y": "independent"}},
  "config": {
    "font": "Liberation Sans",
    "view": {"stroke": "#333333", "strokeWidth": 1.5},
    "axis": {
      "grid": false, "domain": false,
      "tickSize": -10, "tickColor": "#333333", "tickWidth": 1.2,
      "labelFont": "Liberation Sans", "labelFontSize": 34, "labelFontWeight": "bold", "labelColor": "#000000",
      "titleFont": "Liberation Sans", "titleFontSize": 34, "titleFontWeight": "bold", "titleColor": "#000000"
    }
  }
}
